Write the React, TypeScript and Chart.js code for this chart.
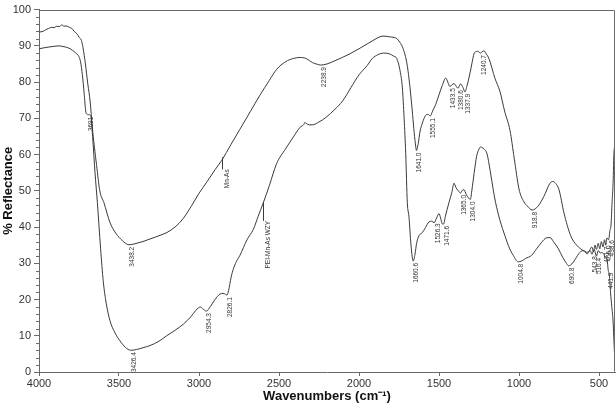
import React, { useEffect, useRef } from "react";
import { Chart, registerables } from "chart.js";

Chart.register(...registerables);

// ---- Data: Mn-As (upper curve) ----
const upperWn = [
  4000, 3975, 3960, 3940, 3920, 3905, 3890, 3875, 3856, 3845, 3830, 3810, 3795, 3780, 3760, 3750, 3735, 3725,
  3710, 3695, 3680, 3667, 3640, 3620, 3594, 3556, 3520, 3480, 3438, 3400, 3350, 3300, 3250, 3200, 3150, 3100,
  3050, 3000, 2950, 2900, 2858, 2800, 2744, 2680, 2619, 2560, 2515, 2460, 2411, 2369, 2330, 2292, 2260, 2239,
  2200, 2150, 2104, 2057, 2000, 1950, 1900, 1875, 1850, 1810, 1780, 1764, 1745, 1725, 1700, 1681, 1665, 1655,
  1645, 1641, 1630, 1618, 1606, 1590, 1575, 1565, 1555, 1540, 1521, 1500, 1480, 1458, 1445, 1433, 1420, 1406,
  1395, 1381, 1372, 1365, 1350, 1338, 1325, 1313, 1295, 1281, 1270, 1260, 1250, 1241, 1230, 1219, 1205, 1188,
  1150, 1119, 1090, 1056, 1030, 1000, 970, 948, 918, 880, 844, 810, 792, 770, 750, 719, 677, 640, 615, 590,
  573, 560, 545, 535, 525, 516, 505, 495, 485, 475, 465, 458, 450, 440, 432, 425, 418, 412, 406, 401,
];
const upperVal = [
  93.8, 94.0, 94.4, 94.8, 95.1, 95.0, 95.4, 95.3, 95.8, 95.4, 95.5, 95.1, 94.8, 94.0, 93.2, 92.4, 91.5, 89.5,
  85.0, 79.5, 74.5, 67.6, 57.0, 50.0, 46.7, 41.2, 38.3, 36.3, 35.1, 35.4, 36.0, 36.8, 37.6, 38.5, 40.0, 42.3,
  45.6, 49.3, 52.5, 55.8, 58.4, 62.8, 67.0, 71.8, 76.4, 80.5, 83.5, 85.6, 86.5, 86.8, 86.5, 85.4, 84.9, 84.7,
  85.0, 85.9, 86.8, 87.8, 89.2, 90.5, 91.8, 92.4, 92.7, 92.5, 92.3, 92.0, 91.0, 89.3, 85.0, 78.4, 71.0, 66.0,
  62.1, 61.1, 63.0, 66.5, 68.4, 70.3, 71.1, 71.0, 70.6, 72.0, 73.8, 76.5, 79.0, 81.1, 80.0, 78.8, 79.2, 79.6,
  79.0, 78.3, 79.0, 79.5, 78.5, 77.3, 79.0, 81.1, 85.0, 87.8, 88.4, 88.5, 88.3, 88.0, 88.4, 88.6, 87.8, 86.5,
  81.0, 77.4, 72.0, 66.6, 59.0, 50.5, 47.0, 45.8, 44.7, 45.8, 48.5, 51.8, 52.6, 52.0, 50.3, 43.9, 37.6, 35.0,
  34.0, 33.2, 32.6, 33.5, 34.5, 33.2, 35.0, 33.8, 35.5, 34.0, 36.0, 34.5, 36.5, 35.0, 37.0, 36.5, 39.0, 40.5,
  47.0, 52.0, 61.0, 62.0,
];

// ---- Data: PEI-Mn-As WZY (lower curve) ----
const lowerWn = [
  4000, 3950, 3900, 3875, 3850, 3820, 3792, 3770, 3750, 3740, 3729, 3718, 3708, 3698, 3690, 3677, 3665, 3650,
  3635, 3615, 3598, 3580, 3556, 3525, 3494, 3460, 3426, 3390, 3350, 3306, 3250, 3202, 3150, 3098, 3050, 3020,
  3004, 2990, 2975, 2954, 2930, 2900, 2869, 2850, 2840, 2826, 2815, 2800, 2785, 2760, 2744, 2700, 2660, 2630,
  2598, 2560, 2515, 2460, 2411, 2369, 2345, 2338, 2330, 2310, 2292, 2250, 2208, 2150, 2104, 2050, 2000, 1950,
  1917, 1880, 1848, 1810, 1785, 1764, 1745, 1729, 1718, 1708, 1698, 1688, 1675, 1661, 1650, 1640, 1625, 1604,
  1585, 1563, 1545, 1531, 1515, 1500, 1490, 1480, 1472, 1460, 1438, 1420, 1406, 1395, 1380, 1365, 1355, 1344,
  1330, 1315, 1304, 1295, 1280, 1265, 1250, 1240, 1230, 1219, 1200, 1180, 1160, 1146, 1120, 1088, 1060, 1036,
  1005, 985, 960, 921, 890, 858, 830, 806, 785, 754, 725, 702, 690, 670, 650, 620, 598, 575, 555, 544, 530,
  516, 505, 492, 483, 470, 460, 450, 442, 435, 428, 420, 412, 406, 401,
];
const lowerVal = [
  89.2, 89.6, 89.9, 90.0, 89.8, 89.5, 88.8, 88.0, 87.0, 85.5, 82.0, 77.0, 72.0, 71.1, 71.0, 70.8, 65.0, 55.0,
  46.7, 34.0, 24.9, 19.0, 14.1, 10.8, 8.6, 6.8, 6.0, 6.2, 6.7, 7.3, 8.5, 10.0, 11.5, 13.2, 15.3, 17.0,
  17.7, 17.9, 17.4, 16.8, 18.0, 20.0, 21.5, 21.7, 21.6, 21.2, 22.5, 26.0, 28.5, 31.0, 32.2, 36.5, 39.4, 43.0,
  46.7, 51.5, 57.5, 61.5, 64.8, 67.5, 68.3, 68.9, 68.6, 68.2, 68.2, 69.0, 70.2, 72.5, 74.7, 78.5, 82.0, 84.5,
  86.5, 87.6, 88.0, 87.8, 87.2, 86.5, 83.5, 78.4, 70.0, 60.2, 46.7, 43.0, 35.0, 30.6, 32.5, 35.5, 37.6, 38.5,
  39.8, 41.4, 41.6, 41.2, 42.5, 43.7, 42.5, 40.9, 40.8, 43.0, 46.7, 49.5, 52.1, 51.0, 50.0, 49.4, 50.1, 50.3,
  49.0, 48.0, 47.6, 50.0, 55.0, 59.5, 61.5, 62.1, 61.9, 61.6, 60.2, 55.5, 50.0, 46.7, 42.0, 37.6, 34.2, 32.2,
  30.4, 30.6, 31.3, 32.2, 34.0, 35.8, 37.0, 37.1, 36.0, 34.0, 31.5, 29.9, 29.3, 29.8, 31.0, 33.0, 33.5, 33.0,
  33.5, 32.5, 33.8, 32.0, 33.5, 32.8, 33.0, 32.5, 31.5, 31.0, 28.0, 26.7, 22.0, 18.0, 14.0, 8.0, 3.0,
];

// ---- Peak annotations ----
const upperPeakWn = [3438.2, 2238.9, 1641.0, 1555.1, 1433.5, 1380.6, 1337.9, 1240.7, 918.8, 471.7, 456.0, 438.6];
const upperPeakText = ["3438.2", "2238.9", "1641.0", "1555.1", "1433.5", "1380.6", "1337.9", "1240.7", "918.8", "471.7", "456.0", "438.6"];
const lowerPeakWn = [3691.0, 3426.4, 2954.3, 2826.1, 1660.6, 1526.3, 1471.6, 1365.0, 1304.0, 1004.8, 690.8, 543.8, 516.4, 441.9];
const lowerPeakText = ["3691", "3426.4", "2954.3", "2826.1", "1660.6", "1526.3", "1471.6", "1365.0", "1304.0", "1004.8", "690.8", "543.8", "516.4", "441.9"];

// ---- Series name labels ----
const seriesNames = ["Mn-As", "PEI-Mn-As WZY"];
const seriesLabelWn = [2858, 2603];

// ---- Axis ticks ----
const xTickValues = [4000, 3500, 3000, 2500, 2000, 1500, 1000, 500];
const yTickValues = [0, 10, 20, 30, 40, 50, 60, 70, 80, 90, 100];
const yMinorStep = 2;

const seriesTickLen = [9, 16];
const LINE_COLOR = "#3a3a3a";
const AXIS_COLOR = "#6a6a6a";
const TEXT_COLOR = "#333";

function interp(wns: number[], vals: number[], w: number): number {
  for (let i = 0; i < wns.length - 1; i++) {
    const a = wns[i], b = wns[i + 1];
    if ((w <= a && w >= b) || (w >= a && w <= b)) {
      const t = (w - a) / (b - a);
      return vals[i] + t * (vals[i + 1] - vals[i]);
    }
  }
  return vals[vals.length - 1];
}

const annotationPlugin = {
  id: "ftirAnnotations",
  afterDatasetsDraw(chart: any) {
    const { ctx, chartArea, scales } = chart;
    const xs = scales.x, ys = scales.y;
    ctx.save();
    ctx.strokeStyle = AXIS_COLOR;
    ctx.lineWidth = 1;
    const L = Math.round(chartArea.left) + 0.5;
    const R = Math.round(chartArea.right) - 0.5;
    const T = Math.round(chartArea.top) + 0.5;
    const B = Math.round(chartArea.bottom) - 0.5;
    ctx.beginPath();
    ctx.moveTo(L, T);
    ctx.lineTo(R, T);
    ctx.lineTo(R, B);
    ctx.stroke();
    ctx.beginPath();
    for (let v = 0; v <= 100; v += yMinorStep) {
      if (v % 10 === 0) continue;
      const py = Math.round(ys.getPixelForValue(v)) + 0.5;
      ctx.moveTo(chartArea.left - 3, py);
      ctx.lineTo(chartArea.left, py);
    }
    ctx.stroke();

    ctx.fillStyle = TEXT_COLOR;
    ctx.font = "6.5px 'Liberation Sans', Arial, sans-serif";
    const drawVert = (px: number, py: number, text: string) => {
      ctx.save();
      ctx.translate(px, py);
      ctx.rotate(-Math.PI / 2);
      ctx.textAlign = "right";
      ctx.textBaseline = "top";
      ctx.fillText(text, 0, 0);
      ctx.restore();
    };
    upperPeakWn.forEach((w, i) => {
      const v = interp(upperWn, upperVal, w);
      drawVert(xs.getPixelForValue(w), ys.getPixelForValue(v) + 2, upperPeakText[i]);
    });
    lowerPeakWn.forEach((w, i) => {
      const v = interp(lowerWn, lowerVal, w);
      drawVert(xs.getPixelForValue(w), ys.getPixelForValue(v) + 2, lowerPeakText[i]);
    });
    const sets = [
      [upperWn, upperVal],
      [lowerWn, lowerVal],
    ];
    seriesNames.forEach((name, i) => {
      const w = seriesLabelWn[i];
      const v = interp(sets[i][0], sets[i][1], w);
      const px = Math.round(xs.getPixelForValue(w)) + 0.5;
      const py = ys.getPixelForValue(v);
      ctx.strokeStyle = LINE_COLOR;
      ctx.beginPath();
      ctx.moveTo(px, py - 3);
      ctx.lineTo(px, py + seriesTickLen[i]);
      ctx.stroke();
      drawVert(px + 1.5, py + seriesTickLen[i], name);
    });
    ctx.restore();
  },
};

export default function App() {
  const ref = useRef<HTMLCanvasElement | null>(null);
  useEffect(() => {
    if (!ref.current) return;
    const fontFamily = "'Liberation Sans', Arial, sans-serif";
    const chart = new Chart(ref.current, {
      type: "line",
      data: {
        datasets: [
          {
            label: seriesNames[0],
            data: upperWn.map((w, i) => ({ x: w, y: upperVal[i] })),
            borderColor: LINE_COLOR,
            borderWidth: 1,
            pointRadius: 0,
            cubicInterpolationMode: "monotone",
            fill: false,
          },
          {
            label: seriesNames[1],
            data: lowerWn.map((w, i) => ({ x: w, y: lowerVal[i] })),
            borderColor: LINE_COLOR,
            borderWidth: 1,
            pointRadius: 0,
            cubicInterpolationMode: "monotone",
            fill: false,
          },
        ],
      },
      options: {
        animation: false,
        responsive: false,
        maintainAspectRatio: false,
        layout: { padding: { top: 4, right: 1, left: 0, bottom: 0 } },
        plugins: { legend: { display: false }, tooltip: { enabled: false } },
        scales: {
          x: {
            type: "linear",
            reverse: true,
            min: 400,
            max: 4000,
            afterBuildTicks: (s: any) => {
              s.ticks = xTickValues.map((v) => ({ value: v }));
            },
            afterFit: (s: any) => {
              s.height = 32;
            },
            grid: { drawOnChartArea: false, tickLength: 4, color: AXIS_COLOR },
            border: { color: AXIS_COLOR },
            ticks: {
              padding: 1,
              color: TEXT_COLOR,
              font: { family: fontFamily, size: 11 },
              maxRotation: 0,
              autoSkip: false,
              callback: (v: any) => String(v),
            },
            title: {
              display: true,
              text: "Wavenumbers (cm⁻¹)",
              color: "#111",
              padding: { top: 0, bottom: 0 },
              font: { family: fontFamily, size: 13, weight: "bold" },
            },
          },
          y: {
            type: "linear",
            min: 0,
            max: 100,
            afterBuildTicks: (s: any) => {
              s.ticks = yTickValues.map((v) => ({ value: v }));
            },
            afterFit: (s: any) => {
              s.width = 39;
            },
            grid: { drawOnChartArea: false, tickLength: 5, color: AXIS_COLOR },
            border: { color: AXIS_COLOR },
            ticks: {
              padding: 3,
              color: TEXT_COLOR,
              font: { family: fontFamily, size: 11 },
              autoSkip: false,
              callback: (v: any) => String(v),
            },
            title: {
              display: true,
              text: "% Reflectance",
              color: "#111",
              padding: { top: 1, bottom: 1 },
              font: { family: fontFamily, size: 13, weight: "bold" },
            },
          },
        },
      },
      plugins: [annotationPlugin],
    } as any);
    return () => chart.destroy();
  }, []);
  return (
    <div style={{ position: "fixed", left: 0, top: 0, width: 616, height: 404, background: "#fff" }}>
      <canvas ref={ref} width={616} height={404} style={{ display: "block", width: 616, height: 404 }} />
    </div>
  );
}
